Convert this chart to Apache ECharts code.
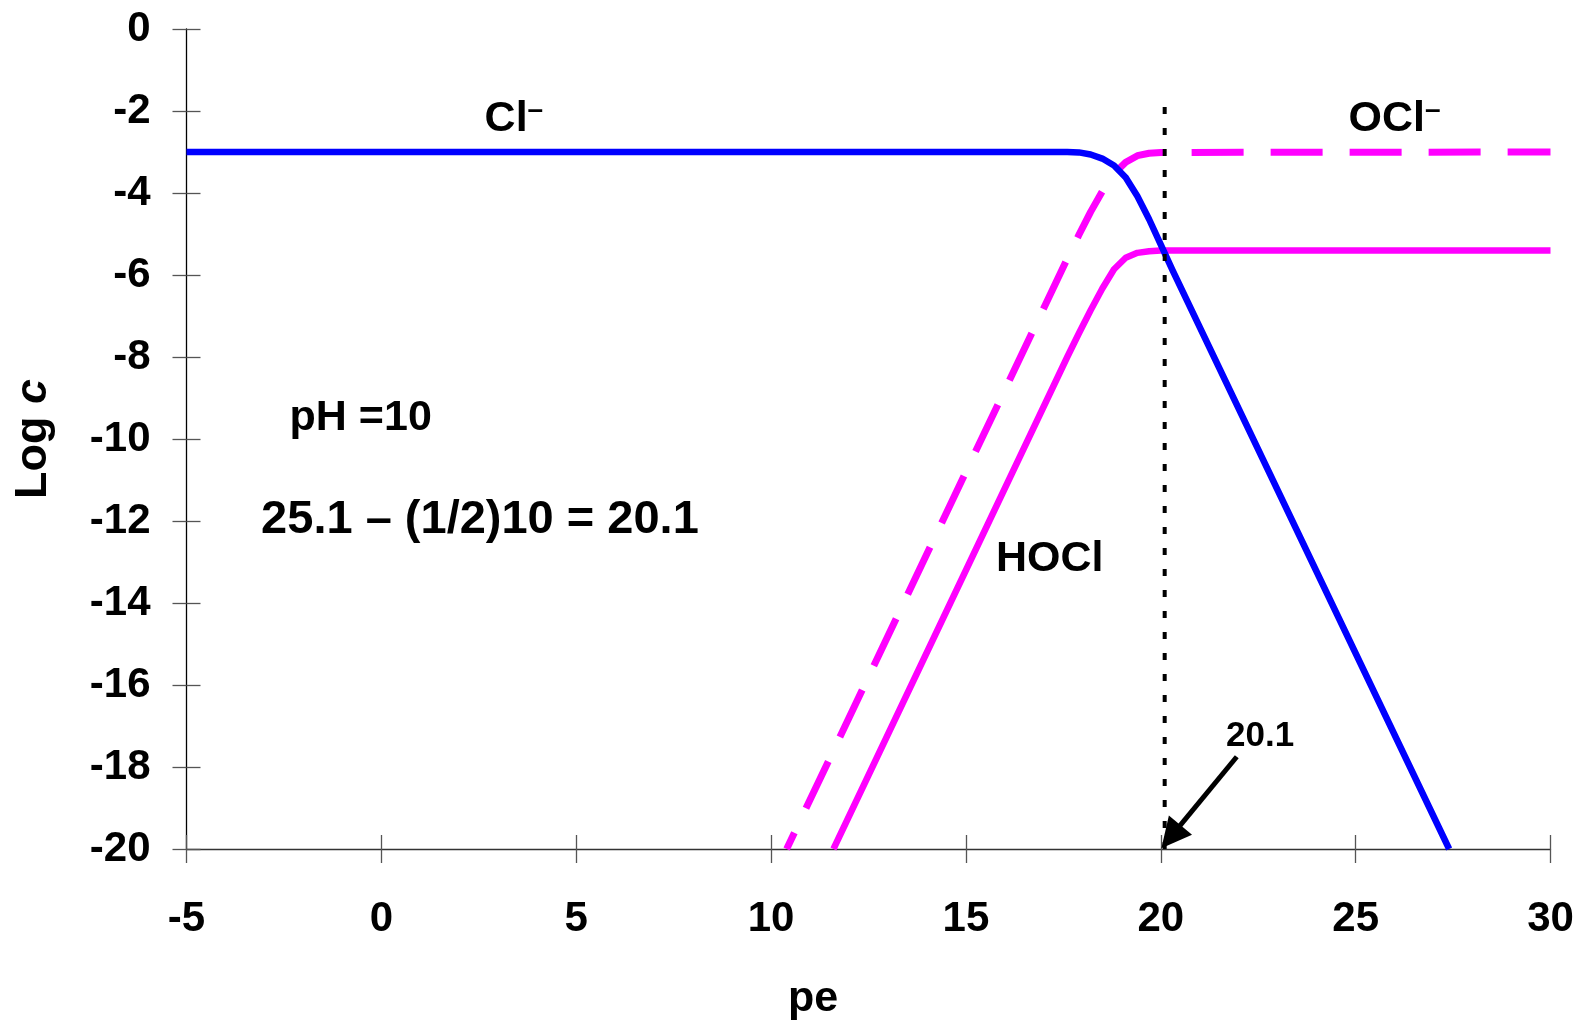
<!DOCTYPE html>
<html>
<head>
<meta charset="utf-8">
<script src="https://cdn.jsdelivr.net/npm/echarts@6/dist/echarts.min.js"></script>
<style>
  html, body { margin: 0; padding: 0; background: #ffffff; }
  #chart { width: 1583px; height: 1023px; }
</style>
</head>
<body>
<div id="chart"></div>
<script>
// pe – log c diagram for the chlorine system at pH 10 (total Cl = 10^-3 M)

// axis ranges and tick steps
const peMin = -5, peMax = 30, peStep = 5;
const logMin = -20, logMax = 0, logStep = 2;

// [pe, log c] points along each curve
const chloride = [
  [-5, -3.0], [17.6, -3.0], [17.9, -3.01], [18.2, -3.06], [18.5, -3.16],
  [18.8, -3.33], [19.1, -3.62], [19.4, -4.08], [19.7, -4.64], [20.0, -5.26],
  [20.3, -5.88], [27.4, -20.0]
];
const hypochlorite = [
  [10.4, -20.0], [17.6, -5.6], [17.9, -5.02], [18.2, -4.46], [18.5, -3.96],
  [18.8, -3.53], [19.1, -3.25], [19.4, -3.09], [19.7, -3.03], [20.0, -3.01],
  [30, -3.0]
];
const hypochlorous = [
  [11.6, -20.0], [17.6, -8.0], [17.9, -7.42], [18.2, -6.86], [18.5, -6.33],
  [18.8, -5.86], [19.1, -5.58], [19.4, -5.46], [19.7, -5.42], [20.0, -5.4],
  [30, -5.4]
];

// boundary pe = 25.1 - (1/2)pH
const boundaryPe = 20.1;
const boundaryLine = [[boundaryPe, -1.9], [boundaryPe, -20]];
// arrow shaft from the "20.1" note down to the axis; the head is centred on its end
const arrowFrom = [21.95, -17.75];
const arrowHead = [20.26, -19.7];

// text notes placed in data coordinates: [pe, log c, rich text]
const notes = [
  [3.4, -2.2, '{m|Cl}{s|–}'],
  [26.0, -2.2, '{m|OCl}{s|–}'],
  [17.15, -12.92, '{m|HOCl}'],
  [-0.53, -9.5, '{m|pH =10}'],
  [2.53, -11.98, '{e|25.1 – (1/2)10 = 20.1}'],
  [22.55, -17.25, '{n|20.1}']
];

const FONT = '"Liberation Sans", Arial, Helvetica, sans-serif';
const BLUE = '#0000ff';
const MAGENTA = '#ff00ff';

const chart = echarts.init(document.getElementById('chart'), null, { renderer: 'canvas' });

const tickStyle = { color: '#555555', width: 1.3 };

chart.setOption({
  animation: false,
  backgroundColor: '#ffffff',
  grid: { left: 186.5, right: 32.5, top: 29, bottom: 174, containLabel: false },
  xAxis: [
    {
      type: 'value', min: peMin, max: peMax, interval: peStep,
      position: 'bottom',
      axisLine: { show: true, onZero: false, lineStyle: { color: '#333333', width: 1.3 } },
      axisTick: { show: true, inside: false, length: 14, lineStyle: tickStyle },
      axisLabel: { show: true, margin: 49, color: '#000', fontSize: 42, fontWeight: 'bold', fontFamily: FONT },
      splitLine: { show: false }
    },
    {
      type: 'value', min: peMin, max: peMax, interval: peStep,
      position: 'bottom',
      axisLine: { show: false, onZero: false },
      axisTick: { show: true, inside: true, length: 14, lineStyle: tickStyle },
      axisLabel: { show: false },
      splitLine: { show: false }
    }
  ],
  yAxis: [
    {
      type: 'value', min: logMin, max: logMax, interval: logStep,
      position: 'left',
      axisLine: { show: true, onZero: false, lineStyle: { color: '#000000', width: 1.3 } },
      axisTick: { show: true, inside: false, length: 14, lineStyle: tickStyle },
      axisLabel: { show: true, margin: 36, color: '#000', fontSize: 42, fontWeight: 'bold', fontFamily: FONT },
      splitLine: { show: false },
      name: '{a|Log }{b|c}',
      nameLocation: 'middle',
      nameRotate: 90,
      nameGap: 130,
      nameTextStyle: {
        rich: {
          a: { fontSize: 45, fontWeight: 'bold', fontFamily: FONT, color: '#000' },
          b: { fontSize: 45, fontWeight: 'bold', fontStyle: 'italic', fontFamily: FONT, color: '#000' }
        }
      }
    },
    {
      type: 'value', min: logMin, max: logMax, interval: logStep,
      position: 'left',
      axisLine: { show: false, onZero: false },
      axisTick: { show: true, inside: true, length: 14, lineStyle: tickStyle },
      axisLabel: { show: false },
      splitLine: { show: false }
    }
  ],
  graphic: [
    {
      type: 'text', x: 813, y: 999, silent: true,
      style: {
        text: 'pe', fill: '#000',
        font: 'bold 43px ' + FONT,
        align: 'center', verticalAlign: 'middle',
        textAlign: 'center', textVerticalAlign: 'middle'
      }
    }
  ],
  series: [
    {
      name: 'Cl-', type: 'line', data: chloride, xAxisIndex: 0, yAxisIndex: 0,
      showSymbol: false, symbol: 'none', smooth: false, silent: true, z: 4,
      lineStyle: { color: BLUE, width: 6.5, join: 'round' }
    },
    {
      name: 'OCl-', type: 'line', data: hypochlorite, xAxisIndex: 0, yAxisIndex: 0,
      showSymbol: false, symbol: 'none', smooth: false, silent: true, z: 3,
      lineStyle: { color: MAGENTA, width: 7, type: [52, 27], dashOffset: 34, cap: 'butt', join: 'round' }
    },
    {
      name: 'HOCl', type: 'line', data: hypochlorous, xAxisIndex: 0, yAxisIndex: 0,
      showSymbol: false, symbol: 'none', smooth: false, silent: true, z: 3,
      lineStyle: { color: MAGENTA, width: 6.5, join: 'round' }
    },
    {
      name: 'boundary', type: 'line', data: boundaryLine, xAxisIndex: 0, yAxisIndex: 0,
      showSymbol: false, symbol: 'none', silent: true, z: 5,
      lineStyle: { color: '#000000', width: 4, type: [7, 14], cap: 'butt' }
    },
    {
      name: 'arrow', type: 'lines', coordinateSystem: 'cartesian2d',
      xAxisIndex: 0, yAxisIndex: 0, silent: true, z: 6,
      symbol: ['none', 'triangle'], symbolSize: [22, 30],
      itemStyle: { color: '#000000' },
      lineStyle: { color: '#000000', width: 5, opacity: 1, curveness: 0 },
      data: [{ coords: [arrowFrom, arrowHead] }]
    },
    {
      name: 'notes', type: 'scatter', xAxisIndex: 0, yAxisIndex: 0, silent: true, z: 7,
      symbolSize: 1,
      itemStyle: { color: '#ffffff', opacity: 0 },
      data: notes.map(n => ({ value: [n[0], n[1]], label: { formatter: n[2] } })),
      label: {
        show: true, position: [0.5, 0.5], align: 'center', verticalAlign: 'middle',
        color: '#000000', opacity: 1,
        rich: {
          m: { fontSize: 43, fontWeight: 'bold', fontFamily: FONT, color: '#000000', lineHeight: 46 },
          e: { fontSize: 47, fontWeight: 'bold', fontFamily: FONT, color: '#000000', lineHeight: 50 },
          n: { fontSize: 35, fontWeight: 'bold', fontFamily: FONT, color: '#000000', lineHeight: 38 },
          s: { fontSize: 28, fontWeight: 'bold', fontFamily: FONT, color: '#000000', lineHeight: 12, verticalAlign: 'top' }
        }
      }
    }
  ]
});
</script>
</body>
</html>
